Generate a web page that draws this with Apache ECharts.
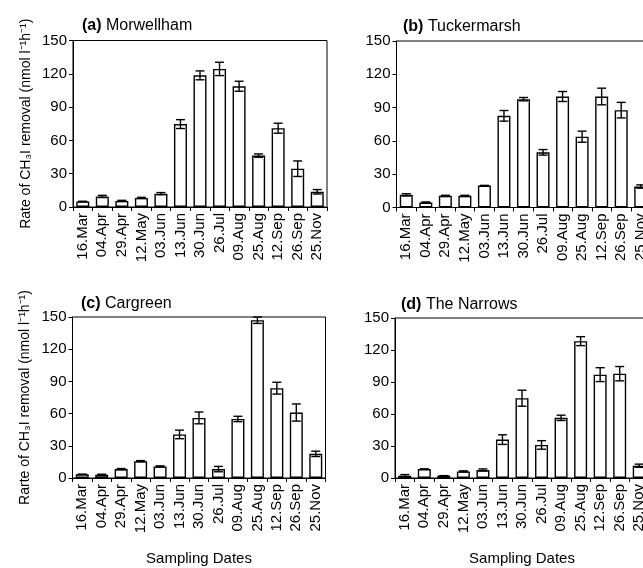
<!DOCTYPE html>
<html>
<head>
<meta charset="utf-8">
<script src="https://cdn.jsdelivr.net/npm/echarts@6/dist/echarts.min.js"></script>
<style>
html,body{margin:0;padding:0;background:#fff;overflow:hidden;width:643px;height:568px;}
#chart{width:662px;height:568px;}
</style>
</head>
<body>
<div id="chart"></div>
<script>
const categories = ['16.Mar','04.Apr','29.Apr','12.May','03.Jun','13.Jun','30.Jun','26.Jul','09.Aug','25.Aug','12.Sep','26.Sep','25.Nov'];
const yTicks = [0, 30, 60, 90, 120, 150];

const morwellham    = [5, 9.5, 5.5, 8.2, 12, 74.7, 118.6, 124.4, 108.8, 46.3, 71, 34.5, 13.7];
const morwellhamErr = [0, 1, 0.5, 0.5, 1, 4, 4, 6, 4.5, 1.5, 4.5, 7, 2];
const tuckermarsh    = [11.4, 4.5, 10.5, 10.5, 19.8, 82.6, 97.6, 49.7, 100, 63.8, 100, 87.7, 18.9];
const tuckermarshErr = [1, 0.5, 0.5, 0.5, 0, 4.8, 1.5, 2.5, 4.5, 5, 7.5, 7, 1.5];
const cargreen    = [3.4, 3, 8.3, 15.7, 10.8, 40.6, 56, 8.3, 55, 147, 83.7, 61, 22.5];
const cargreenErr = [0, 0.5, 0.5, 0.5, 0.5, 4, 5.5, 2.5, 2.5, 3, 5.5, 8, 2.5];
const narrows    = [2.2, 8.4, 2.2, 6.2, 7.5, 36, 74.8, 31, 56.4, 128.3, 96.9, 97.8, 11.5];
const narrowsErr = [1, 0, 0, 0.5, 1, 4.5, 7.5, 4, 2.5, 4.2, 6.5, 6.7, 1.5];

const panels = [
  {tag:'(a)', name:'Morwellham', values:morwellham, errs:morwellhamErr, yTitle:'Rate of CH\u2083I removal (nmol l\u207B\u00B9h\u207B\u00B9)', xTitle:''},
  {tag:'(b)', name:'Tuckermarsh', values:tuckermarsh, errs:tuckermarshErr, yTitle:'', xTitle:''},
  {tag:'(c)', name:'Cargreen', values:cargreen, errs:cargreenErr, yTitle:'Rarte of CH\u2083I removal (nmol l\u207B\u00B9h\u207B\u00B9)', xTitle:'Sampling Dates'},
  {tag:'(d)', name:'The Narrows', values:narrows, errs:narrowsErr, yTitle:'', xTitle:'Sampling Dates'}
];

const gridPos = [
  {left:73, top:40.5, width:254, height:166.5},
  {left:396.5, top:41, width:254, height:166.5},
  {left:72.5, top:317, width:253, height:161},
  {left:395, top:318, width:254, height:160}
];
const titlePos = [
  {left:82, top:18},
  {left:403, top:19},
  {left:81, top:296},
  {left:401, top:297}
];

const FONT = 'Liberation Sans, Arial, sans-serif';
const chart = echarts.init(document.getElementById('chart'), null, {renderer:'canvas'});

const grids = [], xAxes = [], yAxes = [], series = [], titles = [];
panels.forEach((p, i) => {
  grids.push(Object.assign({show:true, borderColor:'#000', borderWidth:1, backgroundColor:'transparent', containLabel:false}, gridPos[i]));
  titles.push({
    text:'{b|' + p.tag + '} ' + p.name,
    left:titlePos[i].left, top:titlePos[i].top, padding:0,
    textStyle:{fontFamily:FONT, fontSize:16, fontWeight:'normal', color:'#000',
      rich:{b:{fontFamily:FONT, fontSize:16, fontWeight:'bold', color:'#000'}}}
  });
  xAxes.push({
    type:'category', gridIndex:i, data:categories, boundaryGap:true,
    axisLine:{show:true, lineStyle:{color:'#000', width:1}},
    axisTick:{show:true, inside:false, length:4, alignWithLabel:false, lineStyle:{color:'#000'}},
    axisLabel:{rotate:90, margin:6, interval:0, fontFamily:FONT, fontSize:15, color:'#000'},
    name:p.xTitle, nameLocation:'middle', nameGap:73,
    nameTextStyle:{fontFamily:FONT, fontSize:15, color:'#000'},
    splitLine:{show:false}
  });
  yAxes.push({
    type:'value', gridIndex:i, min:yTicks[0], max:yTicks[yTicks.length-1], interval:yTicks[1]-yTicks[0],
    axisLine:{show:true, lineStyle:{color:'#000', width:1}},
    axisTick:{show:true, inside:false, length:4, lineStyle:{color:'#000'}},
    axisLabel:{margin:6, fontFamily:FONT, fontSize:15, color:'#000'},
    splitLine:{show:false},
    name:p.yTitle, nameLocation:'middle', nameRotate:90, nameGap:40,
    nameTextStyle:{fontFamily:FONT, fontSize:14, color:'#000'}
  });
  series.push({
    type:'bar', xAxisIndex:i, yAxisIndex:i, data:p.values, barWidth:13,
    itemStyle:{color:'#fff', borderColor:'#000', borderWidth:1.4},
    silent:true, animation:false
  });
  series.push({
    type:'custom', xAxisIndex:i, yAxisIndex:i,
    data:p.values.map((v, k) => [k, v, p.errs[k]]),
    encode:{x:0, y:1},
    silent:true, animation:false, z:5,
    renderItem:function(params, api){
      const x = api.value(0), v = api.value(1), e = api.value(2);
      const hi = api.coord([x, v + e]);
      const lo = api.coord([x, v - e]);
      const hw = 4.5;
      const st = {stroke:'#000', lineWidth:1.4, fill:null};
      return {type:'group', children:[
        {type:'line', shape:{x1:hi[0], y1:hi[1], x2:lo[0], y2:lo[1]}, style:st},
        {type:'line', shape:{x1:hi[0]-hw, y1:hi[1], x2:hi[0]+hw, y2:hi[1]}, style:st},
        {type:'line', shape:{x1:lo[0]-hw, y1:lo[1], x2:lo[0]+hw, y2:lo[1]}, style:st}
      ]};
    }
  });
});

chart.setOption({
  backgroundColor:'#fff',
  animation:false,
  title:titles,
  grid:grids,
  xAxis:xAxes,
  yAxis:yAxes,
  series:series
});
</script>
</body>
</html>
